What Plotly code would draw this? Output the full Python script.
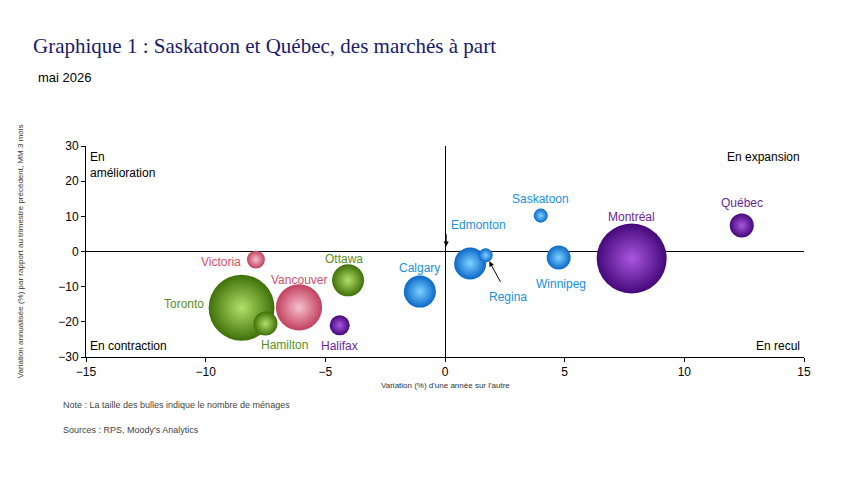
import plotly.graph_objects as go

villes = ["Victoria","Vancouver","Toronto","Hamilton","Ottawa","Halifax","Calgary","Edmonton","Regina","Saskatoon","Winnipeg","Montréal","Québec"]
var_annuelle = [-7.9,-6.1,-8.5,-7.5,-4.05,-4.4,-1.05,1.05,1.7,4.0,4.75,7.8,12.4]
var_trim = [-2.3,-15.9,-16.0,-20.5,-8.2,-21.0,-11.4,-3.4,-1.1,10.2,-1.7,-2.0,7.4]
menages = [120,800,1630,216,384,150,384,384,74,74,216,1840,216]
region = ["bc","bc","on","on","on","qa","pr","pr","pr","pr","pr","qa","qa"]

light = {"bc":"#f6c0cc","on":"#b4e06a","qa":"#a957e0","pr":"#7fd2ff"}
dark = {"bc":"#c2405e","on":"#3f7008","qa":"#45087a","pr":"#0a68c8"}
txtc = {"bc":"#d0506c","on":"#5a8f1e","qa":"#6b1fa0","pr":"#1a8fe0"}

lab_x = [-9.35,-6.1,-10.9,-6.7,-4.2,-4.4,-1.05,1.4,2.65,4.0,4.85,7.8,12.4]
lab_y = [-3.1,-8.0,-15.0,-26.7,-2.0,-27.0,-4.8,7.4,-12.8,14.8,-9.1,9.7,13.9]

fig = go.Figure()
for i, v in enumerate(villes):
    r = region[i]
    fig.add_trace(go.Scatter(x=[var_annuelle[i]], y=[var_trim[i]], mode="markers",
        marker=dict(size=[menages[i]], sizemode="area", sizeref=1840/2450, color=dark[r], opacity=1,
                    gradient=dict(type="radial", color=light[r]), line=dict(width=0)),
        showlegend=False, hoverinfo="text", text=v))

for i, v in enumerate(villes):
    fig.add_annotation(x=lab_x[i], y=lab_y[i], text=v, showarrow=False,
                       font=dict(color=txtc[region[i]], size=12, family="Liberation Sans"))

fig.add_annotation(x=0.05, y=1.4, ax=0, ay=-14, text="", showarrow=True, arrowhead=2, arrowsize=1, arrowwidth=1, arrowcolor="black")
fig.add_annotation(x=1.85, y=-2.8, ax=12, ay=22, text="", showarrow=True, arrowhead=2, arrowsize=1, arrowwidth=1, arrowcolor="black")

q = dict(showarrow=False, font=dict(size=12, color="black", family="Liberation Sans"))
fig.add_annotation(x=-14.9, y=29.5, text="En<br>amélioration", xanchor="left", yanchor="top", align="left", **q)
fig.add_annotation(x=14.9, y=29.5, text="En expansion", xanchor="right", yanchor="top", **q)
fig.add_annotation(x=-14.9, y=-29.5, text="En contraction", xanchor="left", yanchor="bottom", **q)
fig.add_annotation(x=14.9, y=-29.5, text="En recul", xanchor="right", yanchor="bottom", **q)

fig.add_annotation(xref="paper", yref="paper", x=-0.1, y=0.5, textangle=-90, showarrow=False,
                   text="Variation annualisée (%) par rapport au trimestre précédent, MM 3 mois",
                   font=dict(size=8, color="#333", family="Liberation Sans"))
fig.add_annotation(xref="paper", yref="paper", x=0.5, y=-0.165, showarrow=False,
                   text="Variation (%) d'une année sur l'autre", font=dict(size=8, color="#333", family="Liberation Sans"))

page = dict(xref="paper", yref="paper", xanchor="left", showarrow=False)
fig.add_annotation(x=-55/718, y=1+(145-45)/211, yanchor="middle", text="Graphique 1 : Saskatoon et Québec, des marchés à part",
                   font=dict(size=21, color="#1a1a6e", family="Liberation Serif"), **page)
fig.add_annotation(x=-50/718, y=1+(145-76)/211, yanchor="middle", text="mai 2026",
                   font=dict(size=13, color="black", family="Liberation Sans"), **page)
fig.add_annotation(x=-25/718, y=-(404-356)/211, yanchor="middle", text="Note : La taille des bulles indique le nombre de ménages",
                   font=dict(size=9, color="#444", family="Liberation Sans"), **page)
fig.add_annotation(x=-25/718, y=-(429-356)/211, yanchor="middle", text="Sources : RPS, Moody's Analytics",
                   font=dict(size=9, color="#444", family="Liberation Sans"), **page)

ax = dict(showgrid=False, showline=True, linecolor="black", linewidth=1, ticks="outside", ticklen=4,
          tickcolor="black", zeroline=True, zerolinecolor="black", zerolinewidth=1,
          tickfont=dict(size=12, color="black", family="Liberation Sans"), mirror=False)
fig.update_xaxes(range=[-15, 15], dtick=5, **ax)
fig.update_yaxes(range=[-30, 30], dtick=10, **ax)
fig.update_layout(width=850, height=478, margin=dict(l=78, r=54, t=138, b=129),
                  plot_bgcolor="white", paper_bgcolor="white")
fig.write_html("out.html")
